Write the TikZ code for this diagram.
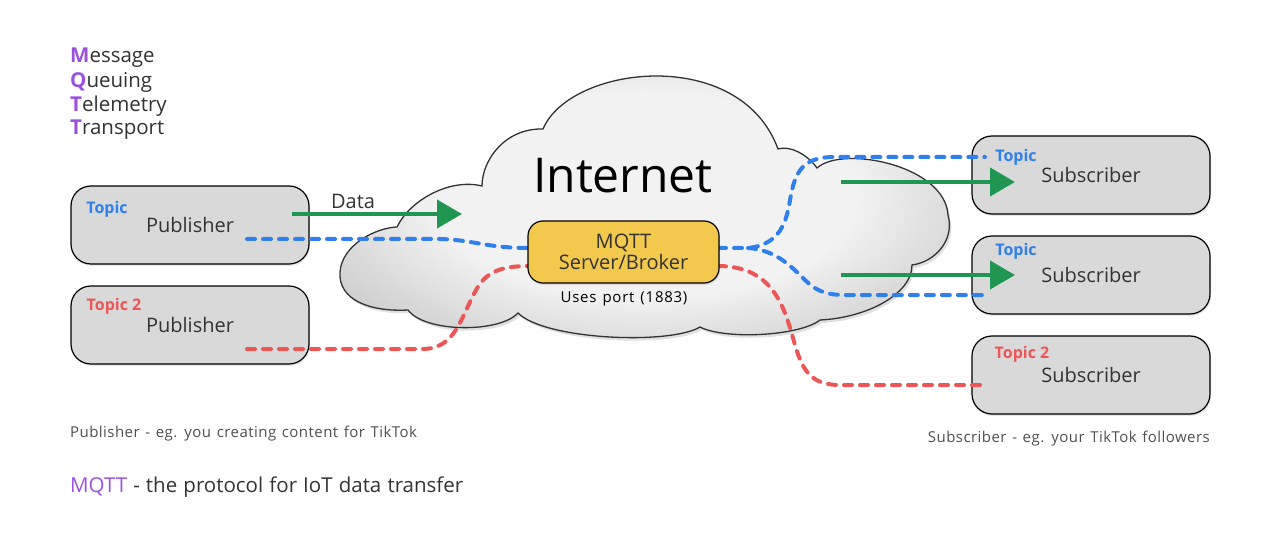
\documentclass[tikz,border=0pt]{standalone}
\usepackage{fontspec}
\setmainfont{Open Sans}
\newfontfamily\portfont[LetterSpace=5,WordSpace=1.3]{Open Sans}
\newfontfamily\capfont[LetterSpace=3,WordSpace=1.3]{Open Sans}
\newfontfamily\protofont[WordSpace=1.15]{Open Sans}
\usetikzlibrary{arrows.meta,shadows}
\definecolor{boxgray}{HTML}{D9D9D9}
\definecolor{txt}{HTML}{333333}
\definecolor{capt}{HTML}{4F4F4F}
\definecolor{mqttpurple}{HTML}{9B51E0}
\definecolor{topicblue}{HTML}{2F80ED}
\definecolor{topicred}{HTML}{EB5757}
\definecolor{brokeryellow}{HTML}{F2C94C}
\definecolor{arrowgreen}{HTML}{219653}
\definecolor{cloudlight}{HTML}{F2F2F2}
\definecolor{clouddark}{HTML}{A0A0A0}
\pgfdeclareradialshading{cloudshade}{\pgfpoint{0bp}{0bp}}{%
  color(0bp)=(cloudlight); color(17bp)=(cloudlight); color(46bp)=(clouddark); color(70bp)=(clouddark)}
\newcommand{\fs}[1]{\fontsize{#1}{#1}\selectfont}
\begin{document}
\begin{tikzpicture}[x=1pt,y=-1pt,
  box/.style={draw=black, line width=1.2pt, fill=boxgray, rounded corners=20pt,
    minimum width=238pt, minimum height=78pt, text=txt, font=\fs{20},
    drop shadow={shadow xshift=1pt,shadow yshift=-2pt,opacity=0.18}},
  broker/.style={draw=black, line width=1.2pt, fill=brokeryellow, rounded corners=15pt,
    minimum width=191pt, minimum height=62pt, text=txt, font=\fs{20}, align=center,
    drop shadow={shadow xshift=1pt,shadow yshift=-2pt,opacity=0.2}},
  topicb/.style={text=topicblue, font=\fs{16}\bfseries, inner sep=0pt},
  topicr/.style={text=topicred, font=\fs{16}\bfseries, inner sep=0pt},
  bluedash/.style={draw=topicblue, line width=4pt, line cap=round, dash pattern=on 8pt off 8pt},
  reddash/.style={draw=topicred, line width=4pt, line cap=round, dash pattern=on 8pt off 8pt},
  flow/.style={draw=arrowgreen, line width=4pt, -{Triangle[length=25pt,width=28pt]}},
  acro/.style={anchor=west, text=txt, font=\fs{20.5}, inner sep=0pt},
  caption/.style={text=capt, font=\capfont\fs{15}, inner sep=0pt}
]
\useasboundingbox (0,0) rectangle (1280,540);

% cloud
\path[fill=black, opacity=0.12, xshift=2pt, yshift=-3pt]
  (397,227) .. controls (410,200) and (450,178) .. (482,186)
  .. controls (482,160) and (505,128) .. (543,129)
  .. controls (570,65) and (740,45) .. (778,149)
  .. controls (790,145) and (808,155) .. (817,168)
  .. controls (842,145) and (945,165) .. (948,215)
  .. controls (955,240) and (935,262) .. (912,265)
  .. controls (912,295) and (865,318) .. (820,320)
  .. controls (800,336) and (725,340) .. (700,327)
  .. controls (670,345) and (545,340) .. (518,313)
  .. controls (500,333) and (425,333) .. (408,310)
  .. controls (370,312) and (338,300) .. (340,272)
  .. controls (342,245) and (375,228) .. cycle;
\path[draw=black!80, line width=1.3pt, shading=cloudshade]
  (397,227) .. controls (410,200) and (450,178) .. (482,186)
  .. controls (482,160) and (505,128) .. (543,129)
  .. controls (570,65) and (740,45) .. (778,149)
  .. controls (790,145) and (808,155) .. (817,168)
  .. controls (842,145) and (945,165) .. (948,215)
  .. controls (955,240) and (935,262) .. (912,265)
  .. controls (912,295) and (865,318) .. (820,320)
  .. controls (800,336) and (725,340) .. (700,327)
  .. controls (670,345) and (545,340) .. (518,313)
  .. controls (500,333) and (425,333) .. (408,310)
  .. controls (370,312) and (338,300) .. (340,272)
  .. controls (342,245) and (375,228) .. cycle;

\node[text=black, font=\fs{48}, inner sep=0pt] (internet) at (623,176) {Internet};

% acronym
\node[acro] (m1) at (70,58) {\textcolor{mqttpurple}{\bfseries M}essage};
\node[acro] (m2) at (70,82) {\textcolor{mqttpurple}{\bfseries Q}ueuing};
\node[acro] (m3) at (70,106) {\textcolor{mqttpurple}{\bfseries T}elemetry};
\node[acro] (m4) at (70,130) {\textcolor{mqttpurple}{\bfseries T}ransport};

% boxes
\node[box] (pub1) at (190,225) {Publisher};
\node[box] (pub2) at (190,325) {Publisher};
\node[box] (sub1) at (1091,175) {Subscriber};
\node[box] (sub2) at (1091,275) {Subscriber};
\node[box] (sub3) at (1091,375) {Subscriber};

\node[topicb] (t1) at (107,209) {Topic};
\node[topicr] (t2) at (114,306) {Topic 2};
\node[topicb] (t3) at (1016,157) {Topic};
\node[topicb] (t4) at (1016,251) {Topic};
\node[topicr] (t5) at (1022,354) {Topic 2};

% connector end points
\coordinate (pb1) at (247,239);
\coordinate (pr1) at (247,349);
\coordinate (sb1) at (985,157);
\coordinate (sb2) at (985,295);
\coordinate (sr3) at (985,385);
\coordinate (g1s) at (292,214);
\coordinate (g1e) at (462,214);
\coordinate (g2s) at (841,182);
\coordinate (g2e) at (1015,182);
\coordinate (g3s) at (841,275);
\coordinate (g3e) at (1015,275);

% dashed topic routes
\draw[bluedash] (pb1) -- (440,239) .. controls (475,240) and (485,248) .. (530,248);
\draw[bluedash] (718,248) -- (748,248) .. controls (785,244) and (787,215) .. (791,195)
  .. controls (796,168) and (806,157) .. (835,157) -- (sb1);
\draw[bluedash] (748,248) .. controls (775,250) and (790,265) .. (805,280)
  .. controls (815,290) and (825,295) .. (845,295) -- (sb2);
\draw[reddash] (pr1) -- (425,349) .. controls (455,347) and (460,320) .. (475,292)
  .. controls (485,272) and (500,266) .. (530,266);
\draw[reddash] (718,266) .. controls (775,266) and (785,310) .. (795,345)
  .. controls (803,372) and (812,385) .. (840,385) -- (sr3);

\node[broker] (mqtt) at (623.5,252) {MQTT\\[1pt]Server/Broker};

% data arrows
\draw[flow] (g1s) -- (g1e);
\draw[flow] (g2s) -- (g2e);
\draw[flow] (g3s) -- (g3e);
\node[text=txt, font=\fs{20}, inner sep=0pt] (data) at (353,201) {Data};

\node[text=black, font=\portfont\fs{15}, inner sep=0pt] (port) at (624,299) {Uses port (1883)};

% captions
\node[caption, anchor=west] (pubcap) at (70,434) {Publisher - eg. you creating content for TikTok};
\node[caption, anchor=east] (subcap) at (1210,439) {Subscriber - eg. your TikTok followers};
\node[anchor=west, text=txt, font=\protofont\fs{20.5}, inner sep=0pt] (proto) at (70,487) {\textcolor{mqttpurple}{MQTT} - the protocol for IoT data transfer};
\end{tikzpicture}
\end{document}
